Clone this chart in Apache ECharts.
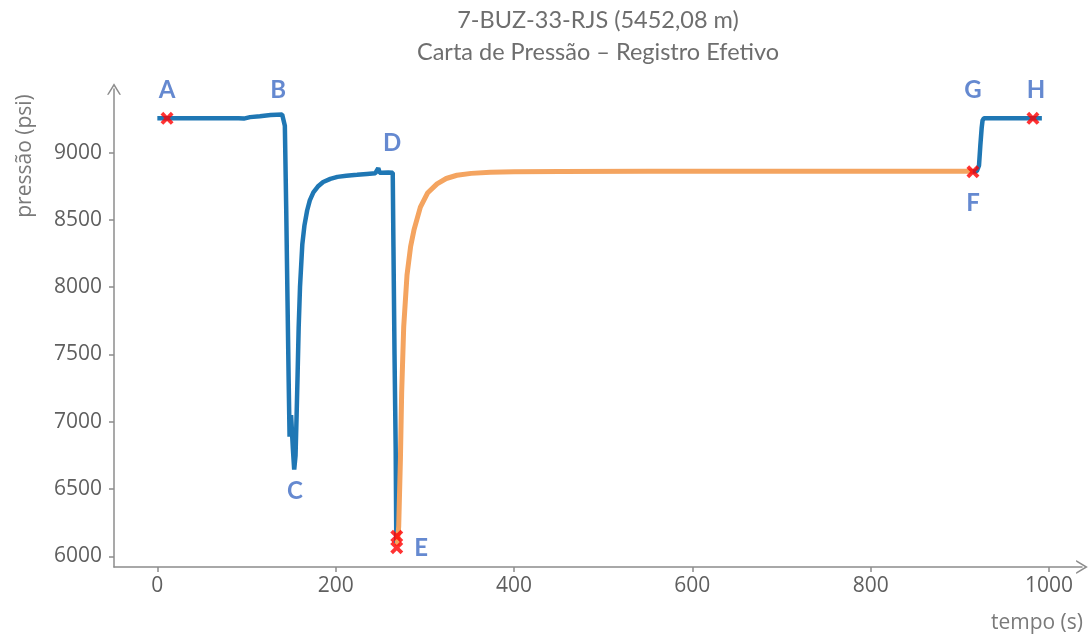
<!DOCTYPE html>
<html><head><meta charset="utf-8">
<script src="https://cdn.jsdelivr.net/npm/echarts@6/dist/echarts.min.js"></script>
<style>html,body{margin:0;padding:0;background:#fff}#c{width:1090px;height:636px}</style>
</head><body><div id="c"></div>
<script>
// Blue curve, segment 1 (A -> B -> C -> D -> E): time (s), pressure (psi)
const blueT1 = [0, 40, 91, 93, 97, 104, 115, 127, 140, 141.8, 143, 144.5, 146, 147.3, 148.3, 150, 152, 153.5, 155, 156.2, 157.3, 158.5, 160, 162.6, 165, 168, 171, 175, 180, 186, 194, 202, 212, 224, 235, 244.5, 246.5, 247.8, 249.3, 252, 259, 264, 264.8, 266, 267.3, 268];
const blueP1 = [9255, 9255, 9255, 9243, 9253, 9264, 9271, 9279, 9284, 9284, 9200, 8600, 7900, 7300, 6890, 7050, 6800, 6645, 6750, 7050, 7350, 7700, 8000, 8320, 8460, 8570, 8645, 8705, 8748, 8782, 8805, 8820, 8828, 8835, 8842, 8847, 8851, 8885, 8851, 8850, 8853, 8850, 8300, 7500, 6800, 6100];
// Blue curve, segment 2 (F -> G -> H)
const blueT2 = [914, 919, 921.5, 923, 924.5, 925.5, 927, 960, 992];
const blueP2 = [8860, 8862, 8905, 9055, 9185, 9240, 9256, 9255, 9256];
// Orange curve (E -> F)
const orangeT = [269, 270.7, 272.6, 274, 276.3, 280, 284, 288, 295, 303, 313.7, 324, 336, 352, 373.5, 400, 452, 550, 750, 914];
const orangeP = [6080, 6224, 6719, 7213, 7706, 8090, 8300, 8430, 8595, 8700, 8768, 8808, 8832, 8846, 8855, 8858, 8860, 8861, 8861, 8861];
// Red X markers
const markT = [10.9, 268.5, 268.5, 914.7, 982];
const markP = [9255, 6150, 6064, 8858, 9255];
// Point letters and their anchor positions (data coordinates)
const letterNames = ['A', 'B', 'C', 'D', 'E', 'F', 'G', 'H'];
const letterT = [10.9, 135.4, 154.4, 263.4, 295.8, 914.7, 914.7, 985.3];
const letterP = [9462, 9462, 6483, 9070, 6062, 8625, 9462, 9462];
// Axis ticks
const xTicks = [0, 200, 400, 600, 800, 1000];
const yTicks = [6000, 6500, 7000, 7500, 8000, 8500, 9000];
const titleLines = ['7-BUZ-33-RJS (5452,08 m)', 'Carta de Pressão – Registro Efetivo'];
const xName = 'tempo (s)';
const yName = 'pressão (psi)';

const zip = (a, b) => a.map((v, i) => [v, b[i]]);
const BLUE = '#1f77b4', ORANGE = '#f4a460', AXIS = '#8c8c8c', TXT = '#5f5f5f';
const chev = 'path://M0,10 L6,0 L12,10 L10.6,10 L6,2.6 L1.4,10 Z';
const xMark = 'path://M2.5,0 L6,3.5 L9.5,0 L12,2.5 L8.5,6 L12,9.5 L9.5,12 L6,8.5 L2.5,12 L0,9.5 L3.5,6 L0,2.5 Z';

const chart = echarts.init(document.getElementById('c'), null, {renderer: 'canvas'});
const mkAxis = (ticks, extra) => Object.assign({
  type: 'value',
  axisLine: {show: true, onZero: false, lineStyle: {color: AXIS, width: 1.5}, symbol: ['none', chev], symbolSize: [14, 15]},
  axisTick: {show: true, length: 5, lineStyle: {color: AXIS, width: 1.5}, customValues: ticks},
  splitLine: {show: false},
  axisLabel: {color: TXT, fontFamily: 'Open Sans', fontSize: 21, customValues: ticks, formatter: v => String(v)}
}, extra);
const xAx = mkAxis(xTicks, {min: -48.6, max: 1037});
xAx.axisLabel.margin = 9;
const yAx = mkAxis(yTicks, {min: 5921, max: 9473});
yAx.axisLabel.margin = 12;
chart.setOption({
  animation: false,
  backgroundColor: '#fff',
  grid: {left: 114, right: 8, top: 89, bottom: 69, containLabel: false, outerBoundsMode: 'none'},
  xAxis: xAx,
  yAxis: yAx,
  graphic: [
    {type: 'text', x: 598, y: 20, style: {text: titleLines[0], align: 'center', verticalAlign: 'middle', font: '23.5px Lato', fill: '#6e6e6e'}},
    {type: 'text', x: 598, y: 52, style: {text: titleLines[1], align: 'center', verticalAlign: 'middle', font: '23.5px Lato', fill: '#6e6e6e'}},
    {type: 'text', x: 1083, y: 623, style: {text: xName, align: 'right', verticalAlign: 'middle', font: '21px "Open Sans"', fill: '#7a7a7a'}},
    {type: 'text', x: 25, y: 156, rotation: Math.PI / 2, style: {text: yName, align: 'center', verticalAlign: 'middle', font: '21px "Open Sans"', fill: '#7a7a7a'}}
  ],
  series: [
    {type: 'line', data: zip(blueT1, blueP1), showSymbol: false, lineStyle: {color: BLUE, width: 4.5}, itemStyle: {color: BLUE}, z: 2},
    {type: 'line', data: zip(blueT2, blueP2), showSymbol: false, lineStyle: {color: BLUE, width: 4.5}, itemStyle: {color: BLUE}, z: 2},
    {type: 'line', data: zip(orangeT, orangeP), showSymbol: false, lineStyle: {color: ORANGE, width: 5}, itemStyle: {color: ORANGE}, z: 3},
    {type: 'scatter', data: zip(markT, markP), symbol: xMark, symbolSize: 13, itemStyle: {color: '#ff0000'}, z: 4},
    {type: 'scatter', data: letterNames.map((n, i) => ({name: n, value: [letterT[i], letterP[i]]})), symbolSize: 0, z: 5,
      label: {show: true, position: 'inside', formatter: '{b}', color: '#3f6cc4', fontFamily: 'Lato', fontWeight: 'bold', fontSize: 24}}
  ]
});
</script></body></html>
